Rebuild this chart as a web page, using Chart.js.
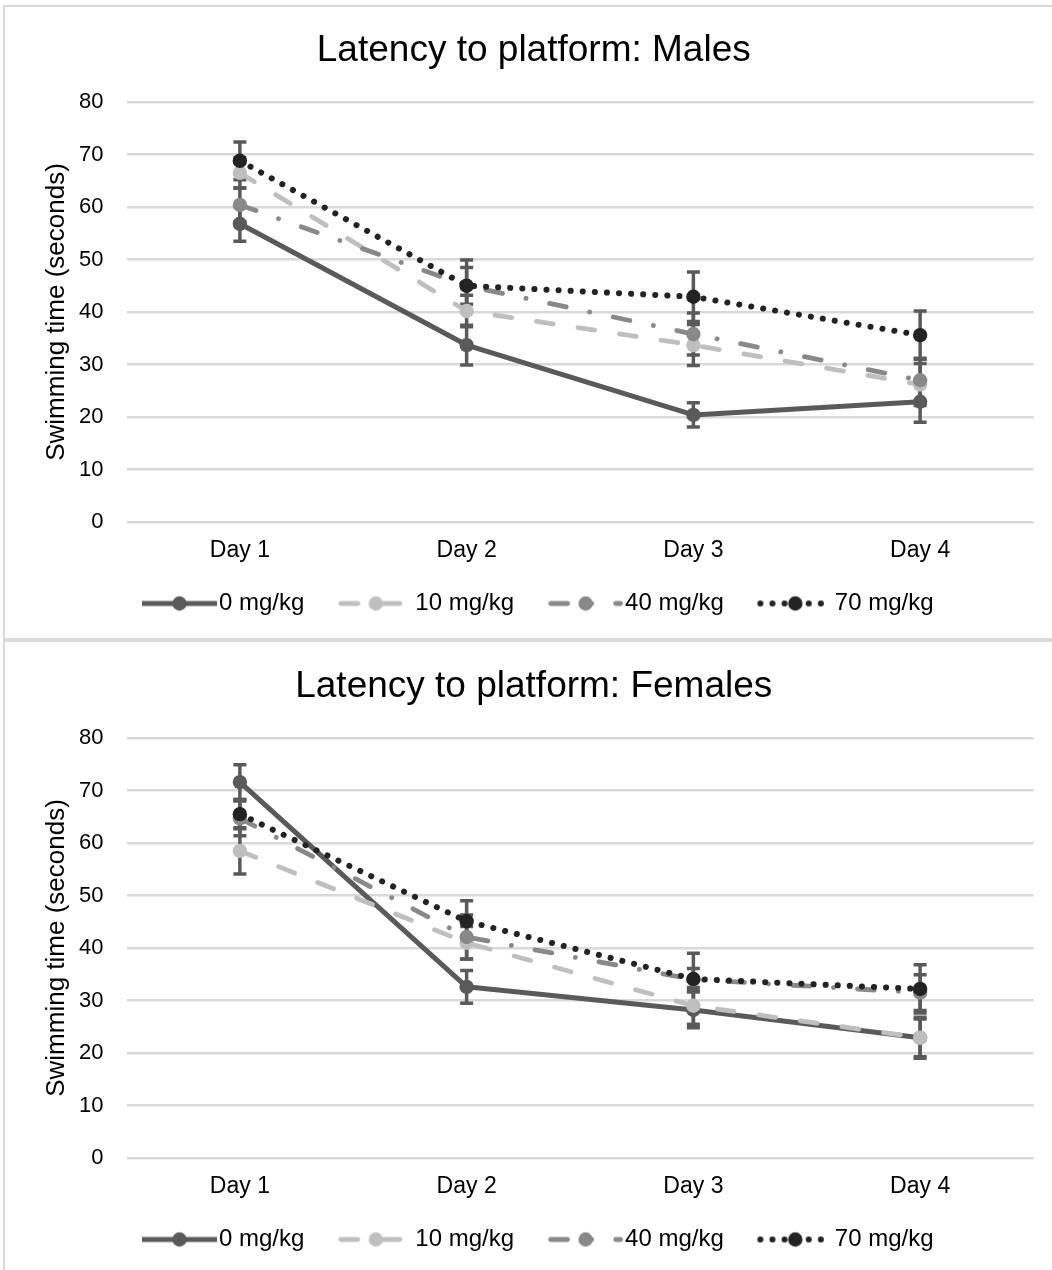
<!DOCTYPE html>
<html>
<head>
<meta charset="utf-8">
<script src="https://cdn.jsdelivr.net/npm/chart.js@4.4.1/dist/chart.umd.min.js"></script>
<style>
html,body{margin:0;padding:0;background:#fff;width:1052px;height:1270px;overflow:hidden;}
.panel{position:absolute;left:3px;width:1060px;border:2px solid #d9d9d9;box-sizing:border-box;}
#p1{top:5px;height:635px;}
#p2{top:640px;height:650px;}
canvas{position:absolute;left:0;}
#c1{top:0;}
#c2{top:636px;}
</style>
</head>
<body>
<div class="panel" id="p1"></div>
<div class="panel" id="p2"></div>
<canvas id="c1" width="1052" height="636"></canvas>
<canvas id="c2" width="1052" height="636"></canvas>
<script>
// ---- data ----
const categories = ['Day 1', 'Day 2', 'Day 3', 'Day 4'];
const seriesNames = ['0 mg/kg', '10 mg/kg', '40 mg/kg', '70 mg/kg'];
const yMin = 0, yMax = 80, yStep = 10;
const yAxisTitle = 'Swimming time (seconds)';
const titleMales = 'Latency to platform: Males';
const titleFemales = 'Latency to platform: Females';

const males0  = [56.8, 33.7, 20.4, 22.9];
const males10 = [66.5, 40.2, 33.7, 26.2];
const males40 = [60.4, 45.0, 35.8, 27.0];
const males70 = [68.8, 45.0, 42.9, 35.6];
const malesErr0  = [3.3, 3.8, 2.3, 3.9];
const malesErr10 = [2.9, 3.0, 3.9, 4.0];
const malesErr40 = [3.2, 3.5, 4.0, 4.2];
const malesErr70 = [3.6, 4.9, 4.7, 4.6];

const females0  = [71.6, 32.6, 28.2, 22.9];
const females10 = [58.5, 41.0, 29.0, 22.9];
const females40 = [64.7, 42.1, 34.0, 31.5];
const females70 = [65.5, 45.1, 34.1, 32.2];
const femalesErr0  = [3.3, 3.1, 3.4, 3.6];
const femalesErr10 = [4.4, 3.1, 3.5, 3.9];
const femalesErr40 = [3.3, 4.2, 2.1, 3.4];
const femalesErr70 = [2.8, 3.9, 4.9, 4.6];

// ---- styles ----
const COLORS = ['#5a5a5a', '#bfbfbf', '#898989', '#232323'];
const DASHES = [[], [17, 25], [17, 24, 0.1, 24], [0.1, 12]];
const WIDTHS = [5, 4.8, 4.8, 6];
const CAPS = ['butt', 'round', 'round', 'round'];
const ORDER = [3, 2, 1, 0];
const FONT = "'Liberation Sans', Arial, sans-serif";
Chart.defaults.font.family = FONT;

// legend sample: 75px line with marker, placed inside a box of width BOX_W
const BOX_W = 73, SAMPLE_OFF = 8, SAMPLE_LEN = 75;
function legendIcon(i) {
  const center = BOX_W / 2;
  const half = Math.max(center - SAMPLE_OFF, SAMPLE_OFF + SAMPLE_LEN - center) + 4;
  const c = document.createElement('canvas');
  c.width = Math.ceil(half * 2); c.height = 18;
  const ox = c.width / 2 - center; // image x of box start
  const g = c.getContext('2d');
  g.strokeStyle = COLORS[i];
  g.lineWidth = WIDTHS[i];
  g.lineCap = CAPS[i];
  g.setLineDash(DASHES[i]);
  const x0 = ox + SAMPLE_OFF + (CAPS[i] === 'round' ? 2.5 : 0);
  const x1 = ox + SAMPLE_OFF + SAMPLE_LEN - (CAPS[i] === 'round' ? 2.5 : 0);
  g.beginPath(); g.moveTo(x0, 9); g.lineTo(x1, 9); g.stroke();
  g.setLineDash([]);
  g.fillStyle = COLORS[i];
  g.beginPath(); g.arc(ox + SAMPLE_OFF + SAMPLE_LEN / 2, 9, 7.2, 0, Math.PI * 2); g.fill();
  return c;
}
const ICONS = seriesNames.map((n, i) => legendIcon(i));

const errorBarPlugin = {
  id: 'errorBars',
  beforeDatasetsDraw(chart) {
    const ctx = chart.ctx, xs = chart.scales.x, ys = chart.scales.y;
    ctx.save();
    ctx.strokeStyle = '#5a5a5a';
    ctx.lineWidth = 3.5;
    ctx.lineCap = 'butt';
    chart.data.datasets.forEach(ds => {
      ds.data.forEach((v, j) => {
        const e = ds.errors[j];
        const px = xs.getPixelForValue(j);
        const yt = ys.getPixelForValue(v + e);
        const yb = ys.getPixelForValue(v - e);
        ctx.beginPath();
        ctx.moveTo(px, yt); ctx.lineTo(px, yb);
        ctx.moveTo(px - 6.5, yt); ctx.lineTo(px + 6.5, yt);
        ctx.moveTo(px - 6.5, yb); ctx.lineTo(px + 6.5, yb);
        ctx.stroke();
      });
    });
    ctx.restore();
  }
};

function makeChart(id, titleText, values, errors) {
  return new Chart(document.getElementById(id), {
    type: 'line',
    data: {
      labels: categories,
      datasets: seriesNames.map((n, i) => ({
        label: n,
        data: values[i],
        errors: errors[i],
        borderColor: COLORS[i],
        backgroundColor: COLORS[i],
        borderWidth: WIDTHS[i],
        borderDash: DASHES[i],
        borderCapStyle: CAPS[i],
        borderJoinStyle: 'round',
        pointRadius: 7.2,
        pointHoverRadius: 7.2,
        pointBackgroundColor: COLORS[i],
        pointBorderColor: COLORS[i],
        pointBorderWidth: 0,
        tension: 0,
        fill: false,
        order: ORDER[i]
      }))
    },
    options: {
      responsive: false,
      animation: false,
      events: [],
      layout: { padding: { left: 34, right: 18.5, top: 0, bottom: 10.5 } },
      plugins: {
        title: {
          display: true, text: titleText, color: '#000',
          font: { size: 37, weight: 'normal' },
          padding: { top: 28.3, bottom: 29.3 }
        },
        legend: {
          position: 'bottom',
          labels: {
            usePointStyle: true,
            pointStyleWidth: BOX_W,
            padding: 26,
            color: '#000',
            font: { size: 24 },
            generateLabels: () => seriesNames.map((n, i) => ({
              text: n, pointStyle: ICONS[i], fillStyle: COLORS[i], strokeStyle: COLORS[i],
              lineWidth: 0, hidden: false, datasetIndex: i, fontColor: '#000'
            }))
          }
        },
        tooltip: { enabled: false }
      },
      scales: {
        x: {
          offset: true,
          grid: { display: false, drawTicks: false },
          border: { display: false },
          ticks: { color: '#000', font: { size: 23 }, padding: 15.2 },
          afterFit(s) { s.height = 43.5; }
        },
        y: {
          min: yMin, max: yMax,
          ticks: { stepSize: yStep, color: '#000', font: { size: 22 }, padding: 23 },
          grid: { color: '#d9d9d9', lineWidth: 2.5, drawTicks: false },
          border: { display: false },
          title: { display: true, text: yAxisTitle, color: '#000', font: { size: 26 }, padding: { top: 7.5, bottom: 0 } },
          afterFit(s) { s.width = 92.5; }
        }
      }
    },
    plugins: [errorBarPlugin]
  });
}

makeChart('c1', titleMales,
  [males0, males10, males40, males70],
  [malesErr0, malesErr10, malesErr40, malesErr70]);
makeChart('c2', titleFemales,
  [females0, females10, females40, females70],
  [femalesErr0, femalesErr10, femalesErr40, femalesErr70]);
</script>
</body>
</html>
